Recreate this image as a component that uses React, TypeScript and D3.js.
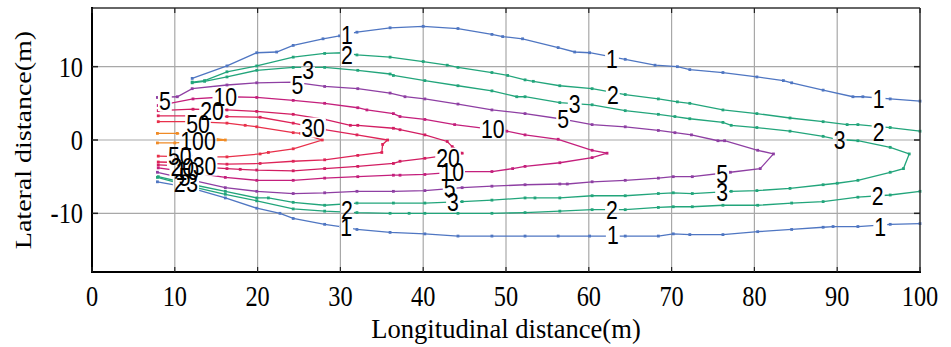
import React from 'react';
import * as d3 from 'd3';

// contour polylines, [longitudinal m, lateral m]
const level1Upper: [number, number][] = [
  [12.1, 8.4], [16.3, 10.1], [19.9, 11.9], [22.3, 12.0], [24.3, 12.9], [27.9, 13.8], [29.9, 14.2], [32, 14.7], [36, 15.3],
  [40, 15.5], [44.2, 15.2], [48.3, 14.4], [49.6, 14.1], [52, 13.8], [56.3, 12.6], [58.3, 12.0], [60.1, 11.9], [64.4, 11.0],
  [68, 10.2], [70.7, 10.0], [72.2, 9.6], [76.2, 9.2], [80.3, 8.6], [83.5, 8.1], [84.5, 7.8], [88.3, 6.8], [91.9, 5.9],
  [93.1, 5.9], [96.4, 5.6], [100, 5.3],
];
const level1Lower: [number, number][] = [
  [7.9, -5.7], [11.8, -6.5], [16.1, -7.9], [19.9, -9.3], [22.7, -10.0], [24.3, -10.7], [28.1, -11.5], [30, -11.8], [32, -12.2],
  [36, -12.6], [40.2, -12.8], [44.2, -13.1], [48.3, -13.1], [52.3, -13.1], [56.3, -13.1], [60.1, -13.1], [64.4, -13.1],
  [68.4, -13.1], [70.2, -12.8], [72.2, -12.9], [76.2, -12.9], [80.4, -12.5], [84.5, -12.2], [88.3, -11.9], [89.5, -11.8],
  [92.5, -11.8], [96.4, -11.5], [100, -11.4],
];
const level2Upper: [number, number][] = [
  [12.1, 7.9], [13.6, 8.1], [16.3, 9.3], [19.9, 10.1], [24.3, 11.3], [28.1, 11.8], [30.3, 11.9], [32, 11.6], [36, 11.3],
  [40, 10.7], [42.9, 10.2], [44.2, 9.9], [48.3, 9.2], [50.2, 8.8], [52.3, 8.2], [53.3, 8.0], [56.5, 7.4], [60.4, 7.0],
  [64.4, 6.2], [68.4, 5.6], [70.7, 5.2], [72.2, 5.0], [76.2, 4.1], [80.3, 3.6], [84.3, 3.0], [88.3, 2.5], [91.2, 2.1],
  [92.5, 2.1], [96.4, 1.7], [100, 1.2],
];
const level2Lower: [number, number][] = [
  [7.9, -5.1], [11.8, -6.3], [16.1, -7.4], [19.9, -8.3], [24.3, -9.4], [28.1, -9.7], [32, -9.9], [36, -10.0], [38.3, -10.0],
  [40.2, -10.0], [44.2, -10.0], [48.3, -10.0], [52.3, -9.9], [56.5, -9.7], [60.4, -9.5], [64.4, -9.5], [68.4, -9.2],
  [70.2, -9.1], [72.5, -9.1], [76.2, -8.9], [80.4, -8.9], [84.5, -8.6], [88.3, -8.4], [92.5, -7.8], [96.4, -7.5], [100, -7.0],
];
const level3: [number, number][] = [
  [12.1, 7.8], [13.6, 8.0], [16.3, 8.6], [19.9, 9.5], [24.3, 9.9], [28.1, 9.9], [32.1, 9.5], [36, 9.0], [36.4, 8.8],
  [40.2, 8.1], [44.2, 7.4], [48.3, 6.7], [51.3, 5.9], [52.3, 5.9], [56.5, 5.1], [60.4, 4.8], [64.4, 4.0], [68.4, 3.5],
  [70.4, 3.2], [72.2, 2.9], [76.2, 2.4], [77.2, 2.0], [80.3, 1.7], [84.3, 1.2], [88.3, 0.5], [90, 0.1], [92.5, -0.1],
  [96.4, -1.0], [98.7, -1.9], [98, -3.9], [96.4, -4.4], [92.5, -5.5], [90, -5.9], [88.3, -6.1], [84.3, -6.6], [80.3, -6.9],
  [77.2, -7.0], [72.5, -7.3], [70.2, -7.2], [68.4, -7.3], [64.4, -7.6], [60.4, -7.6], [56.5, -7.9], [53.5, -7.9],
  [52.3, -7.9], [48.3, -8.2], [44.7, -8.4], [40.2, -8.6], [36.4, -8.6], [32, -8.6], [28.1, -8.9], [24.3, -8.5],
  [21.3, -7.9], [19.9, -7.9], [16.1, -7.0], [11.8, -6.0], [8, -5.0],
];
const level5: [number, number][] = [
  [7.9, 5.8], [10.3, 5.9], [12.1, 7.0], [16.3, 7.5], [19.9, 7.8], [24.3, 7.9], [28.1, 7.3], [32.1, 7.0], [36, 6.4],
  [37.8, 5.9], [40.2, 5.6], [44.2, 4.9], [48.3, 4.1], [52.3, 3.6], [56.5, 2.9], [60.4, 2.1], [64.4, 1.8], [68.4, 1.3],
  [70.4, 1.0], [72.4, 0.7], [75.6, -0.1], [76.4, -0.1], [80.4, -1.4], [82.3, -1.9], [80.7, -3.9], [77.1, -4.4],
  [72.5, -5.0], [70.2, -5.0], [68.4, -5.2], [64.4, -5.5], [60.4, -5.7], [57.4, -6.0], [56.5, -6.0], [52.3, -6.1],
  [48.3, -6.3], [44.7, -6.5], [40.2, -6.9], [36.4, -7.0], [32, -7.0], [28.1, -7.2], [24.3, -7.3], [19.9, -7.0],
  [16.1, -6.5], [11.8, -5.4], [7.9, -4.4],
];
const level10: [number, number][] = [
  [8, 4.7], [12.2, 5.6], [16.3, 5.9], [19.9, 5.8], [24.3, 5.4], [28.1, 5.0], [32.1, 4.4], [33.2, 4.1], [36.4, 3.6],
  [37.2, 3.2], [40.2, 2.8], [43.8, 2.1], [50.1, 1.2], [52.3, 0.7], [56.3, 0.1], [60.4, -1.4], [62.2, -1.8], [60.4, -2.4],
  [56.5, -3.1], [52.3, -3.6], [50.8, -3.9], [48.3, -4.3], [44.7, -4.3], [40.2, -4.7], [37.2, -4.8], [36.4, -4.8],
  [32.1, -5.0], [28.1, -5.2], [24.3, -5.5], [19.9, -5.5], [16.1, -5.1], [11.8, -4.4], [8, -3.8],
];
const level20: [number, number][] = [
  [8, 4.0], [12.2, 4.2], [16.3, 4.1], [19.9, 3.9], [24.3, 3.5], [28.1, 2.8], [31.2, 2.0], [32.1, 2.0], [36.4, 1.6],
  [37.2, 1.4], [40.2, 0.7], [42.9, -0.2], [43.5, -0.9], [44.7, -1.8], [40.2, -2.5], [37.2, -2.9], [36.4, -3.2],
  [32.1, -3.6], [28.1, -3.9], [24.3, -4.2], [19.9, -4.1], [17.9, -4.0], [16.3, -3.9], [12, -3.6], [8, -3.4],
];
const level30: [number, number][] = [
  [8, 3.3], [12.2, 3.3], [16.3, 3.2], [20.3, 3.1], [24.3, 2.3], [28.1, 1.4], [32, 0.7], [35.7, 0.0], [35.1, -0.6],
  [35, -1.7], [32.1, -2.1], [28.1, -2.7], [24.3, -2.9], [20.3, -3.2], [16.3, -3.3], [12, -3.1], [8, -3.0],
];
const level50: [number, number][] = [
  [8, 2.5], [12.2, 2.5], [16.3, 2.3], [18.5, 2.0], [19.9, 1.8], [24.3, 1.0], [25.2, 0.9], [27.8, 0.0], [24.3, -1.2],
  [21.3, -1.7], [20.3, -1.9], [16.3, -2.3], [12, -2.3], [8, -2.2],
];
const level100: [number, number][] = [
  [7.9, 0.9], [10.3, 0.9], [16.1, 0.0], [10, -0.4], [7.9, -0.4],
];

const contourLines = [level1Upper, level1Lower, level2Upper, level2Lower, level3, level5, level10, level20, level30, level50, level100];
const contourLevels = [1, 1, 2, 2, 3, 5, 10, 20, 30, 50, 100];

// inline labels
const labelText = ['1', '2', '3', '5', '5', '10', '20', '50', '100', '30', '1', '2', '3', '5', '10', '1', '2', '3',
  '20', '10', '5', '3', '2', '1', '2', '1', '5', '3', '2', '1', '50', '20', '10', '30', '5', '2', '3'];
const labelX = [30.8, 30.8, 26.1, 24.8, 8.8, 16.1, 14.5, 12.8, 12.8, 26.7, 62.8, 62.9, 58.3, 56.9, 48.4, 95, 95, 90.3,
  43, 43.5, 43.2, 43.6, 30.8, 30.7, 62.8, 62.9, 76.1, 76.1, 94.9, 95.2, 10.6, 10.9, 11.5, 13.6, 11.2, 10.6, 12.1];
const labelY = [14.35, 11.6, 9.6, 7.5, 5.3, 5.8, 4.0, 2.2, -0.2, 1.7, 11.1, 6.2, 4.9, 2.8, 1.5, 5.6, 1.1, 0,
  -2.4, -4.4, -6.5, -8.4, -9.5, -11.9, -9.5, -13.0, -4.7, -7.1, -7.7, -11.8, -2.2, -3.7, -4.2, -3.5, -5.0, -5.9, -5.9];

const xTicks = [0, 10, 20, 30, 40, 50, 60, 70, 80, 90, 100];
const yTicks = [-10, 0, 10];

const levelColor: Record<number, string> = {
  1: '#4f76c2', 2: '#22a57b', 3: '#22a57b', 5: '#8e3fa3', 10: '#c41f7c', 20: '#d21d62', 30: '#de2458', 50: '#e8304a', 100: '#f08a24',
};

export default function App() {
  const W = 951, H = 347;
  const left = 92, right = 920, top = 8, bottom = 272;
  const x = d3.scaleLinear().domain([0, 100]).range([left, right]);
  const y = d3.scaleLinear().domain([-18, 18]).range([bottom, top]);
  const line = d3.line<[number, number]>().x(d => x(d[0])).y(d => y(d[1]));

  const lblSize = 25;
  const sx = 0.85;

  return (
    <svg width={W} height={H} style={{ position: 'absolute', left: 0, top: 0, background: '#fff' }}>
      <defs>
        <mask id="lblmask" maskUnits="userSpaceOnUse" x={0} y={0} width={W} height={H}>
          <rect x={0} y={0} width={W} height={H} fill="#fff" />
          {labelText.map((t, i) => {
            const w = t.length * 0.556 * lblSize * sx + 2;
            const h = lblSize * 0.72 + 2;
            return <rect key={i} x={x(labelX[i]) - w / 2} y={y(labelY[i]) - h / 2} width={w} height={h} fill="#000" />;
          })}
        </mask>
      </defs>

      {/* grid */}
      {xTicks.filter(t => t > 0 && t < 100).map(t => (
        <line key={'gx' + t} x1={x(t)} x2={x(t)} y1={top} y2={bottom} stroke="#a8a8a8" strokeWidth={1.2} />
      ))}
      {yTicks.map(t => (
        <line key={'gy' + t} x1={left} x2={right} y1={y(t)} y2={y(t)} stroke="#a8a8a8" strokeWidth={1.2} />
      ))}

      {/* contours */}
      <g mask="url(#lblmask)">
        {contourLines.map((pts, i) => {
          const c = levelColor[contourLevels[i]];
          return (
            <g key={i}>
              <path d={line(pts) || ''} fill="none" stroke={c} strokeWidth={1.3} />
              {pts.map((p, j) => (
                <rect key={j} x={x(p[0]) - 1.4} y={y(p[1]) - 1.4} width={2.8} height={2.8} fill={c} />
              ))}
            </g>
          );
        })}
      </g>

      {/* labels */}
      {labelText.map((t, i) => (
        <g key={'l' + i} transform={`translate(${x(labelX[i])},${y(labelY[i])}) scale(${sx},1)`}>
          <text textAnchor="middle" dy="0.36em" fontFamily="'Liberation Sans', Arial, sans-serif" fontSize={lblSize} fill="#000">
            {t}
          </text>
        </g>
      ))}

      {/* frame */}
      <line x1={left} x2={right} y1={top} y2={top} stroke="#333" strokeWidth={1.5} />
      <line x1={right} x2={right} y1={top} y2={bottom} stroke="#333" strokeWidth={1.5} />
      <line x1={left} x2={left} y1={top - 1} y2={bottom + 1} stroke="#000" strokeWidth={2} />
      <line x1={left - 1} x2={right + 1} y1={bottom} y2={bottom} stroke="#000" strokeWidth={2} />

      {/* ticks */}
      {xTicks.map(t => (
        <g key={'tx' + t}>
          <line x1={x(t)} x2={x(t)} y1={bottom} y2={bottom - 5} stroke="#222" strokeWidth={1.2} />
          <line x1={x(t)} x2={x(t)} y1={top} y2={top + 5} stroke="#222" strokeWidth={1.2} />
          <g transform={`translate(${x(t)},${bottom + 24}) scale(0.84,1)`}>
            <text textAnchor="middle" dy="0.35em" fontFamily="'Liberation Serif', 'Times New Roman', serif" fontSize={29} fill="#000">{t}</text>
          </g>
        </g>
      ))}
      {yTicks.map(t => (
        <g key={'ty' + t}>
          <line x1={left} x2={left + 6} y1={y(t)} y2={y(t)} stroke="#222" strokeWidth={1.5} />
          <line x1={right} x2={right - 6} y1={y(t)} y2={y(t)} stroke="#222" strokeWidth={1.5} />
          <g transform={`translate(${left - 9},${y(t)}) scale(0.84,1)`}>
            <text textAnchor="end" dy="0.35em" fontFamily="'Liberation Serif', 'Times New Roman', serif" fontSize={29} fill="#000">{t}</text>
          </g>
        </g>
      ))}

      {/* axis titles */}
      <g transform={`translate(${(left + right) / 2},${328}) scale(0.95,1)`}>
        <text textAnchor="middle" dy="0.35em" fontFamily="'Liberation Serif', 'Times New Roman', serif" fontSize={28} fill="#000">
          Longitudinal distance(m)
        </text>
      </g>
      <g transform={`translate(23,${(top + bottom) / 2}) rotate(-90) scale(1,0.85)`}>
        <text textAnchor="middle" dy="0.35em" fontFamily="'Liberation Serif', 'Times New Roman', serif" fontSize={28} fill="#000">
          Lateral distance(m)
        </text>
      </g>
    </svg>
  );
}
